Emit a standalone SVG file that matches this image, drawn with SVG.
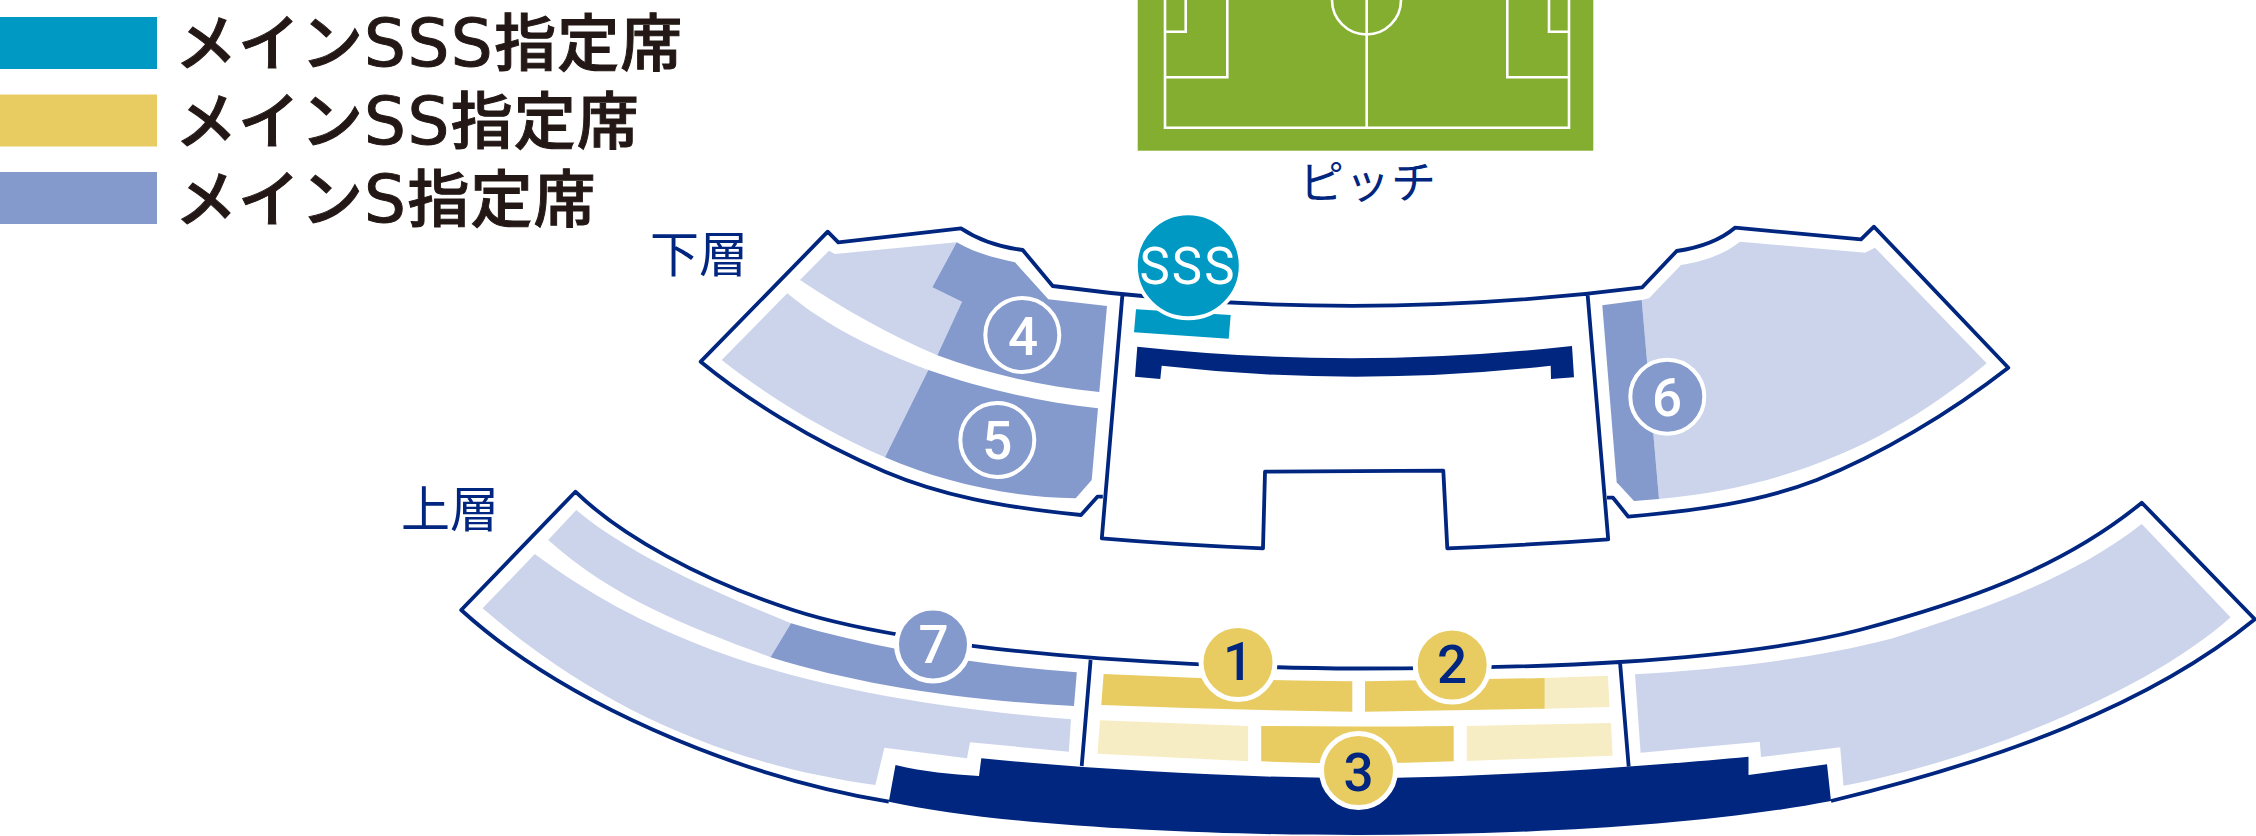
<svg xmlns="http://www.w3.org/2000/svg" width="2256" height="836" viewBox="0 0 2256 836">
<style>
.line{fill:none;stroke:#00267f;stroke-width:3.8;stroke-linejoin:round}
.teal{fill:#0099c4}.yel{fill:#e8cc62}.pale{fill:#f7edc4}.dark{fill:#8499cc}.light{fill:#ccd4ec}.navy{fill:#00267f}
.leg{font-family:"Noto Sans CJK JP","Noto Sans",sans-serif;font-size:62px;letter-spacing:1px;font-weight:500;fill:#231815;stroke:#231815;stroke-width:1}
.leg tspan{font-family:"DejaVu Sans",sans-serif;font-size:66px;letter-spacing:1.500px;font-weight:400}
.lab{font-family:"Noto Sans CJK JP","Noto Sans",sans-serif;font-size:49px;fill:#00267f;text-anchor:middle}
.num{font-family:Roboto,"Liberation Sans",sans-serif;font-size:53px;font-weight:500;text-anchor:middle}
.w{fill:#fff}.b{fill:#00267f}
.ring{stroke:#fff;stroke-width:4}
</style>
<g id="legend">
<rect class="teal" x="0" y="17" width="157" height="52"/>
<rect class="yel" x="0" y="94.500" width="157" height="52"/>
<rect class="dark" x="0" y="172" width="157" height="52"/>
<text class="leg" x="175" y="66">メイン<tspan>SSS</tspan>指定席</text>
<text class="leg" x="175" y="144">メイン<tspan>SS</tspan>指定席</text>
<text class="leg" x="175" y="222">メイン<tspan>S</tspan>指定席</text>
</g>
<g id="pitch">
<rect x="1137.700" y="0" width="455.600" height="150.700" fill="#84ae30"/>
<g fill="none" stroke="#fff" stroke-width="2.600">
<path d="M1165-5V127.700H1569V-5M1366.700 0V127.700M1227.300-5V77.300H1165M1507.300-5V77.300H1569M1185.700-5V31.700H1165M1549-5V31.700H1569"/>
<circle cx="1366.500" cy="0" r="34.500"/>
</g>
<text class="lab" x="1368" y="199" style="font-size:45px;letter-spacing:1px">ピッチ</text>
</g>
<g id="lower-stand">
<path class="light" d="M800 280L829 250.700L835 254L956.700 242.300L932.300 287.300L962 301.700L937.300 355.300C890 335 845 310 800 280Z"/>
<path class="dark" d="M956.700 242.300C975 253 995 258 1015 262.300L1048.300 299.300L1107 306L1099.300 392C1040 386 985 373 937.300 355.300L962 301.700L932.300 287.300Z"/>
<path class="light" d="M787.300 293.300L721.700 360C770 398 825 431 885 457.300L928.300 370C875 350 825 325 787.300 293.300Z"/>
<path class="dark" d="M928.300 370C980 388 1040 402 1098 408.300L1091.700 480L1075.700 498.300C1005 497 940 481 885 457.300Z"/>
<path class="light" d="M1641.700 300L1649 298.300L1681 265C1700 262 1722 256 1740 241.700L1865 252.700L1875 247.700L1986.700 363.300C1900 435 1800 486 1659 499Z"/>
<path class="dark" d="M1602.300 305.300L1641.700 300L1659 499L1634 501L1616.700 482.300Z"/>
<path class="teal" d="M1136 309.300L1230.700 315L1228.700 338.700L1134 332.300Z"/>
<path class="navy" d="M1137.300 346.700Q1355 370 1572 346L1574 377.300L1551 379L1550.700 365.700Q1355 387.700 1161.700 365.700L1160.300 379L1135 376.700Z"/>
<path class="line" d="M1102.800 496.700H1097.400L1081 515C1000 507 940 495 885 471.700C810 440 745 398 700.700 361.700L827.700 231.700L838.300 242.300L961 228.300C980 241 1000 247 1022.700 250L1052.700 286Q1347 325 1642.300 287.300L1676.700 251C1697 248 1718 242 1735 227.700L1861 239.300L1874 226.700L2008.300 367.700C1950 413 1880 455 1816.700 480C1760 502 1700 510 1628.300 516.700L1613 497.700H1607M1122.300 296L1101.800 538.300Q1180 545 1263 548.300L1265 471.700L1443.300 470.700L1447.300 548.300Q1530 545 1608.200 539.300L1587.700 295.700"/>
</g>
<g id="upper-stand">
<path class="light" d="M576.300 510L548.200 540C615 600 690 627 770.500 657.300L791 623.300C710 590 630 555 576.300 510Z"/>
<path class="dark" d="M791 623.300C880 650 980 665 1076.800 672.300L1074 706C960 700 860 685 770.500 657.300Z"/>
<path class="light" d="M534.800 554L482.600 608.300C600 710 730 765 875.400 785L884.400 747.700L967 758.300L970 742.300L1068.800 751.700L1071 719.300C950 710 820 690 712.500 650C640 622 590 595 534.800 554Z"/>
<path class="light" d="M2141.800 524L2230.500 617.300C2150 690 1980 760 1843.500 785.700L1840.200 747.300L1761 757L1759.800 741.700L1640.600 752.700L1635 674.300C1720 669 1810 660 1892.900 638.300C1980 610 2070 580 2141.800 524Z"/>
<path class="yel" d="M1103.600 674Q1228 680 1352.300 681.300V711.700Q1228 710 1101.300 705Z"/>
<path class="yel" d="M1365 681.300L1544.800 678V708.700L1365 711.700Z"/>
<path class="pale" d="M1544.800 678L1608 675.700L1609.500 707L1544.800 708.700Z"/>
<path class="pale" d="M1100 720.300L1248.200 726V761.300L1097.500 753.700Z"/>
<path class="yel" d="M1261.200 726Q1356 727 1453.700 726V761.300Q1356 765 1261.200 761.300Z"/>
<path class="pale" d="M1466.800 726L1611 723L1612.600 755.700L1466.800 761Z"/>
<path class="navy" d="M888.800 801.700L895.500 765C925 772 950 774 979 776L981.300 758.300C1100 770 1250 778 1356 778C1480 778 1640 767 1748.500 756.700V775L1827 764.300L1831 801C1700 826 1520 835 1356 835C1200 835 1000 826 888.800 801.700Z"/>
<path class="line" d="M1090.600 660L1081.700 766M1620 662L1628.700 766.700M888.800 801.700C730 775 560 700 461.200 610L575.400 491.700C620 535 700 580 792.900 610C860 632 980 650 1100 658.300C1185 664 1270 668.500 1357 668.500C1450 668.500 1540 667 1620 662C1700 657 1790 648 1859.400 630C1960 603 2060 570 2141.800 502.700L2254.800 619.300C2150 705 2000 760 1831 801"/>
</g>
<g id="badge-sss"><circle class="teal" cx="1188.300" cy="265.700" r="52.500" stroke="#fff" stroke-width="4"/><text class="num w" x="1188" y="284" style="font-size:51px;letter-spacing:2px;font-weight:400">SSS</text></g>
<g id="badge-1"><circle class="yel" cx="1238" cy="662.500" r="37" stroke="#fff" stroke-width="5"/><text class="num b" x="1238" y="680">1</text></g>
<g id="badge-2"><circle class="yel" cx="1452.200" cy="665" r="37" stroke="#fff" stroke-width="5"/><text class="num b" x="1452" y="683">2</text></g>
<g id="badge-3"><circle class="yel" cx="1358.500" cy="770.500" r="37" stroke="#fff" stroke-width="5"/><text class="num b" x="1358.500" y="790.500">3</text></g>
<g id="badge-4"><circle class="dark ring" cx="1022.300" cy="335" r="37"/><text class="num w" x="1023" y="355">4</text></g>
<g id="badge-5"><circle class="dark ring" cx="997.300" cy="440" r="37"/><text class="num w" x="997.300" y="458.500">5</text></g>
<g id="badge-6"><circle class="dark ring" cx="1667.300" cy="396.700" r="37"/><text class="num w" x="1667" y="416">6</text></g>
<g id="badge-7"><circle class="dark" cx="933" cy="644.500" r="36.500" stroke="#fff" stroke-width="5"/><text class="num w" x="933.500" y="663">7</text></g>
<g id="labels">
<text class="lab" x="699" y="272">下層</text>
<text class="lab" x="450" y="527">上層</text>
</g>
</svg>
